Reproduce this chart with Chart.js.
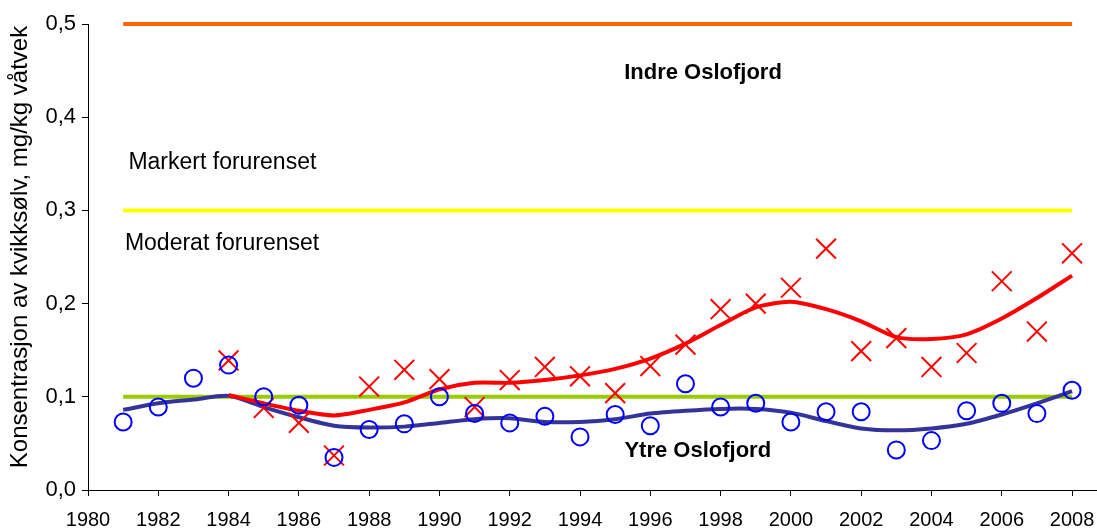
<!DOCTYPE html>
<html>
<head>
<meta charset="utf-8">
<script src="https://cdn.jsdelivr.net/npm/chart.js@4.4.1/dist/chart.umd.min.js"></script>
<style>
  html, body { margin: 0; padding: 0; background: #fff; }
  #wrap { width: 1097px; height: 529px; position: relative; }
</style>
</head>
<body>
<div id="wrap"><canvas id="kvikksolv" width="1097" height="529"></canvas></div>
<script>
// Kvikksølv i torsk, Indre og Ytre Oslofjord

// Ytre Oslofjord, 1981-2008
var ytreYears = [1981, 1982, 1983, 1984, 1985, 1986, 1987, 1988, 1989, 1990, 1991, 1992, 1993, 1994,
                 1995, 1996, 1997, 1998, 1999, 2000, 2001, 2002, 2003, 2004, 2005, 2006, 2007, 2008];
var ytreValues = [0.073, 0.089, 0.120, 0.134, 0.100, 0.091, 0.035, 0.065, 0.071, 0.100, 0.082, 0.072, 0.079, 0.057,
                  0.081, 0.069, 0.114, 0.089, 0.093, 0.073, 0.084, 0.084, 0.043, 0.053, 0.085, 0.093, 0.082, 0.107];
var ytreTrend = [0.086, 0.093, 0.097, 0.101, 0.089, 0.078, 0.069, 0.067, 0.068, 0.072, 0.076, 0.077, 0.073, 0.073,
                 0.076, 0.082, 0.085, 0.087, 0.087, 0.083, 0.074, 0.066, 0.064, 0.066, 0.071, 0.081, 0.093, 0.106];

// Indre Oslofjord, 1984-2008
var indreYears = [1984, 1985, 1986, 1987, 1988, 1989, 1990, 1991, 1992, 1993, 1994, 1995, 1996,
                  1997, 1998, 1999, 2000, 2001, 2002, 2003, 2004, 2005, 2006, 2007, 2008];
var indreValues = [0.139, 0.088, 0.072, 0.037, 0.111, 0.129, 0.119, 0.089, 0.118, 0.132, 0.122, 0.104, 0.133,
                   0.156, 0.194, 0.200, 0.217, 0.259, 0.149, 0.163, 0.132, 0.147, 0.224, 0.170, 0.254];
var indreTrend = [0.102, 0.093, 0.085, 0.080, 0.086, 0.094, 0.108, 0.115, 0.115, 0.118, 0.123, 0.130, 0.141,
                  0.157, 0.177, 0.196, 0.202, 0.194, 0.181, 0.164, 0.162, 0.167, 0.184, 0.206, 0.230];

// grenser for tilstandsklasser
var limitYears = [1981, 2008];
var limitGod = 0.1;
var limitModerat = 0.3;
var limitMarkert = 0.5;

// akser
var xTicks = [1980, 1982, 1984, 1986, 1988, 1990, 1992, 1994, 1996, 1998, 2000, 2002, 2004, 2006, 2008];
var yTicks = [0, 0.1, 0.2, 0.3, 0.4, 0.5];

// tekster i plottet
var notes = [
    { text: 'Indre Oslofjord', year: 1997.5, value: 0.447, bold: true, align: 'center' },
    { text: 'Markert forurenset', year: 1981.15, value: 0.351, bold: false, align: 'left' },
    { text: 'Moderat forurenset', year: 1981.05, value: 0.264, bold: false, align: 'left' },
    { text: 'Ytre Oslofjord', year: 1997.35, value: 0.042, bold: true, align: 'center' }
];

function points(xs, ys) {
    return xs.map(function (x, i) { return { x: x, y: ys[i] }; });
}

function limitLine(level) {
    return limitYears.map(function (x) { return { x: x, y: level }; });
}

var FONT = "'Liberation Sans', Arial, sans-serif";

// tegner tekstene
var notesPlugin = {
    id: 'notes',
    afterDatasetsDraw: function (chart) {
        var ctx = chart.ctx;
        var xs = chart.scales.x;
        var ys = chart.scales.y;
        ctx.save();
        ctx.fillStyle = '#000';
        ctx.textBaseline = 'middle';
        notes.forEach(function (n) {
            ctx.font = n.bold ? 'bold 22px ' + FONT : '23px ' + FONT;
            ctx.textAlign = n.align;
            ctx.fillText(n.text, xs.getPixelForValue(n.year), ys.getPixelForValue(n.value));
        });
        ctx.restore();
    }
};

var ctx = document.getElementById('kvikksolv').getContext('2d');
var chart = new Chart(ctx, {
    type: 'scatter',
    data: {
        datasets: [
            {
                label: 'Ytre Oslofjord',
                data: points(ytreYears, ytreValues),
                pointStyle: 'circle',
                pointRadius: 8.5,
                borderColor: '#0000FF',
                backgroundColor: 'rgba(0,0,0,0)',
                pointBorderWidth: 2,
                showLine: false,
                clip: false
            },
            {
                label: 'Indre Oslofjord',
                data: points(indreYears, indreValues),
                pointStyle: 'crossRot',
                pointRadius: 14,
                borderColor: '#FF0000',
                pointBorderWidth: 2,
                showLine: false,
                clip: false
            },
            {
                label: 'Indre trend',
                data: points(indreYears, indreTrend),
                showLine: true,
                borderColor: '#FF0000',
                borderWidth: 4,
                pointRadius: 0,
                tension: 0.25,
                clip: false
            },
            {
                label: 'Ytre trend',
                data: points(ytreYears, ytreTrend),
                showLine: true,
                borderColor: '#333399',
                borderWidth: 4,
                pointRadius: 0,
                tension: 0.25,
                clip: false
            },
            {
                label: 'God',
                data: limitLine(limitGod),
                showLine: true,
                borderColor: '#99CC00',
                borderWidth: 4,
                pointRadius: 0,
                clip: false
            },
            {
                label: 'Moderat',
                data: limitLine(limitModerat),
                showLine: true,
                borderColor: '#FFFF00',
                borderWidth: 4,
                pointRadius: 0,
                clip: false
            },
            {
                label: 'Markert',
                data: limitLine(limitMarkert),
                showLine: true,
                borderColor: '#FF6600',
                borderWidth: 4,
                pointRadius: 0,
                clip: false
            }
        ]
    },
    options: {
        responsive: false,
        animation: false,
        events: [],
        layout: { autoPadding: false, padding: { top: 24, right: 0, left: 0, bottom: 0 } },
        plugins: {
            legend: { display: false },
            tooltip: { enabled: false }
        },
        scales: {
            x: {
                type: 'linear',
                min: 1980,
                max: 2008.71,
                afterBuildTicks: function (scale) {
                    scale.ticks = xTicks.map(function (v) { return { value: v }; });
                },
                afterFit: function (scale) {
                    scale.height = 39;
                    scale.paddingLeft = 0;
                    scale.paddingRight = 0;
                },
                ticks: {
                    color: '#000',
                    padding: 12,
                    maxRotation: 0,
                    autoSkip: false,
                    font: { family: FONT, size: 20 },
                    callback: function (v) { return String(v); }
                },
                grid: { drawOnChartArea: false, drawTicks: true, tickLength: 6, color: '#000', lineWidth: 1 },
                border: { color: '#000', width: 1 }
            },
            y: {
                min: 0,
                max: 0.5,
                afterBuildTicks: function (scale) {
                    scale.ticks = yTicks.map(function (v) { return { value: v }; });
                },
                afterFit: function (scale) {
                    scale.width = 88;
                    scale.paddingTop = 0;
                    scale.paddingBottom = 0;
                },
                title: {
                    display: true,
                    text: '   Konsentrasjon av kvikksølv, mg/kg våtvek',
                    color: '#000',
                    font: { family: FONT, size: 24 },
                    padding: { top: 6, bottom: 0 }
                },
                ticks: {
                    color: '#000',
                    padding: 6,
                    font: { family: FONT, size: 22 },
                    callback: function (v) { return v.toFixed(1).replace('.', ','); }
                },
                grid: { drawOnChartArea: false, drawTicks: true, tickLength: 6, color: '#000', lineWidth: 1 },
                border: { color: '#000', width: 1 }
            }
        }
    },
    plugins: [notesPlugin]
});
</script>
</body>
</html>
